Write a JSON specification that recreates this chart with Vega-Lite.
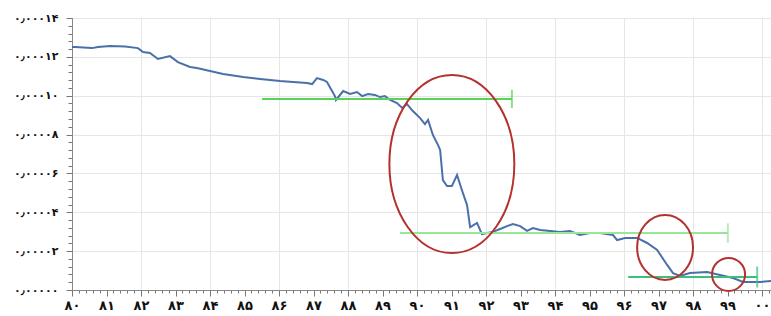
{
  "$schema": "https://vega.github.io/schema/vega-lite/v6.json",
  "width": 699,
  "height": 272,
  "autosize": "none",
  "padding": {"left": 72, "top": 18, "right": 0, "bottom": 26},
  "background": "white",
  "config": {"view": {"stroke": null}},
  "datasets": {
    "series": [
      {"year": 80.00, "value": 0.0001251},
      {"year": 80.09, "value": 0.0001251},
      {"year": 80.58, "value": 0.0001245},
      {"year": 80.75, "value": 0.0001251},
      {"year": 81.10, "value": 0.0001256},
      {"year": 81.54, "value": 0.0001253},
      {"year": 81.91, "value": 0.0001245},
      {"year": 82.06, "value": 0.0001225},
      {"year": 82.26, "value": 0.0001220},
      {"year": 82.49, "value": 0.0001189},
      {"year": 82.84, "value": 0.0001204},
      {"year": 83.07, "value": 0.0001173},
      {"year": 83.42, "value": 0.0001148},
      {"year": 83.62, "value": 0.0001143},
      {"year": 84.00, "value": 0.0001127},
      {"year": 84.38, "value": 0.0001112},
      {"year": 84.96, "value": 0.0001096},
      {"year": 85.45, "value": 0.0001086},
      {"year": 86.03, "value": 0.0001076},
      {"year": 86.41, "value": 0.0001071},
      {"year": 86.81, "value": 0.0001065},
      {"year": 86.96, "value": 0.0001060},
      {"year": 87.10, "value": 0.0001091},
      {"year": 87.28, "value": 0.0001081},
      {"year": 87.39, "value": 0.0001071},
      {"year": 87.62, "value": 0.0000998},
      {"year": 87.65, "value": 0.0000978},
      {"year": 87.86, "value": 0.0001024},
      {"year": 88.06, "value": 0.0001009},
      {"year": 88.26, "value": 0.0001019},
      {"year": 88.41, "value": 0.0000998},
      {"year": 88.58, "value": 0.0001009},
      {"year": 88.78, "value": 0.0001004},
      {"year": 88.93, "value": 0.0000993},
      {"year": 89.07, "value": 0.0000998},
      {"year": 89.22, "value": 0.0000978},
      {"year": 89.42, "value": 0.0000962},
      {"year": 89.57, "value": 0.0000937},
      {"year": 89.71, "value": 0.0000957},
      {"year": 89.88, "value": 0.0000921},
      {"year": 90.09, "value": 0.0000885},
      {"year": 90.23, "value": 0.0000854},
      {"year": 90.32, "value": 0.0000875},
      {"year": 90.46, "value": 0.0000798},
      {"year": 90.61, "value": 0.0000746},
      {"year": 90.67, "value": 0.0000721},
      {"year": 90.75, "value": 0.0000566},
      {"year": 90.87, "value": 0.0000535},
      {"year": 91.01, "value": 0.0000535},
      {"year": 91.16, "value": 0.0000592},
      {"year": 91.30, "value": 0.0000515},
      {"year": 91.45, "value": 0.0000437},
      {"year": 91.54, "value": 0.0000324},
      {"year": 91.59, "value": 0.0000329},
      {"year": 91.74, "value": 0.0000345},
      {"year": 91.88, "value": 0.0000288},
      {"year": 92.03, "value": 0.0000293},
      {"year": 92.20, "value": 0.0000299},
      {"year": 92.41, "value": 0.0000314},
      {"year": 92.61, "value": 0.0000329},
      {"year": 92.78, "value": 0.0000340},
      {"year": 92.99, "value": 0.0000329},
      {"year": 93.19, "value": 0.0000304},
      {"year": 93.36, "value": 0.0000319},
      {"year": 93.57, "value": 0.0000309},
      {"year": 93.86, "value": 0.0000304},
      {"year": 94.14, "value": 0.0000299},
      {"year": 94.43, "value": 0.0000304},
      {"year": 94.72, "value": 0.0000283},
      {"year": 95.01, "value": 0.0000293},
      {"year": 95.30, "value": 0.0000293},
      {"year": 95.68, "value": 0.0000283},
      {"year": 95.80, "value": 0.0000257},
      {"year": 96.03, "value": 0.0000268},
      {"year": 96.38, "value": 0.0000268},
      {"year": 96.67, "value": 0.0000242},
      {"year": 96.96, "value": 0.0000206},
      {"year": 97.25, "value": 0.0000129},
      {"year": 97.42, "value": 0.0000087},
      {"year": 97.62, "value": 0.0000072},
      {"year": 97.91, "value": 0.0000087},
      {"year": 98.41, "value": 0.0000093},
      {"year": 98.78, "value": 0.0000077},
      {"year": 99.16, "value": 0.0000062},
      {"year": 99.45, "value": 0.0000041},
      {"year": 99.94, "value": 0.0000041},
      {"year": 100.26, "value": 0.0000046}
    ],
    "levels": [
      {"name": "a", "start": 85.51, "end": 92.75, "value": 0.0000983},
      {"name": "b", "start": 89.51, "end": 99.01, "value": 0.0000293},
      {"name": "c", "start": 96.12, "end": 99.86, "value": 0.0000067}
    ]
  },
  "resolve": {"axis": {"x": "independent", "y": "independent"}},
  "layer": [
    {
      "data": {"name": "series"},
      "mark": {"type": "line", "opacity": 0},
      "encoding": {
        "x": {"field": "year", "type": "quantitative",
          "axis": {"orient": "bottom", "values": [80, 82, 84, 86, 88, 90, 92, 94, 96, 98, 100], "grid": true, "gridColor": "#e6e6e6", "gridWidth": 1, "ticks": false, "labels": false, "domain": false, "title": null}},
        "y": {"field": "value", "type": "quantitative", "axis": null}
      }
    },
    {
      "data": {"name": "series"},
      "mark": {"type": "line", "opacity": 0},
      "encoding": {
        "x": {"field": "year", "type": "quantitative",
          "axis": {"orient": "bottom", "values": [80,80.2,80.4,80.6,80.8,81,81.2,81.4,81.6,81.8,82,82.2,82.4,82.6,82.8,83,83.2,83.4,83.6,83.8,84,84.2,84.4,84.6,84.8,85,85.2,85.4,85.6,85.8,86,86.2,86.4,86.6,86.8,87,87.2,87.4,87.6,87.8,88,88.2,88.4,88.6,88.8,89,89.2,89.4,89.6,89.8,90,90.2,90.4,90.6,90.8,91,91.2,91.4,91.6,91.8,92,92.2,92.4,92.6,92.8,93,93.2,93.4,93.6,93.8,94,94.2,94.4,94.6,94.8,95,95.2,95.4,95.6,95.8,96,96.2,96.4,96.6,96.8,97,97.2,97.4,97.6,97.8,98,98.2,98.4,98.6,98.8,99,99.2,99.4,99.6,99.8,100,100.2], "grid": false, "ticks": true, "tickSize": 3, "tickColor": "#777", "labels": false, "domain": false, "title": null}},
        "y": {"field": "value", "type": "quantitative",
          "axis": {"orient": "left", "values": [0,0.000004,0.000008,0.000012,0.000016,0.00002,0.000024,0.000028,0.000032,0.000036,0.00004,0.000044,0.000048,0.000052,0.000056,0.00006,0.000064,0.000068,0.000072,0.000076,0.00008,0.000084,0.000088,0.000092,0.000096,0.0001,0.000104,0.000108,0.000112,0.000116,0.00012,0.000124,0.000128,0.000132,0.000136,0.00014], "grid": false, "ticks": true, "tickSize": 4, "tickColor": "#777", "labels": false, "domain": false, "title": null}}
      }
    },
    {
      "data": {"name": "series"},
      "mark": {"type": "line", "color": "#4a70aa", "strokeWidth": 2, "interpolate": "linear"},
      "encoding": {
        "x": {"field": "year", "type": "quantitative",
          "scale": {"domain": [80, 100.26], "nice": false, "zero": false},
          "axis": {"orient": "bottom", "values": [80,81,82,83,84,85,86,87,88,89,90,91,92,93,94,95,96,97,98,99,100], "grid": false, "tickSize": 6, "tickColor": "#777", "domainColor": "#888", "labelFont": "DejaVu Sans", "labelFontSize": 13, "labelFontWeight": "bold", "labelColor": "#111", "labelPadding": 3, "labelFlush": false, "labelOverlap": false, "title": null,
            "labelExpr": "replace(replace(replace(replace(replace(replace(replace(replace(replace(replace(format(datum.value % 100, '02d'), regexp('0','g'), '۰'), regexp('1','g'), '۱'), regexp('2','g'), '۲'), regexp('3','g'), '۳'), regexp('4','g'), '۴'), regexp('5','g'), '۵'), regexp('6','g'), '۶'), regexp('7','g'), '۷'), regexp('8','g'), '۸'), regexp('9','g'), '۹')"}},
        "y": {"field": "value", "type": "quantitative",
          "scale": {"domain": [0, 0.00014], "nice": false, "zero": true},
          "axis": {"orient": "left", "values": [0, 0.00002, 0.00004, 0.00006, 0.00008, 0.0001, 0.00012, 0.00014], "grid": true, "gridColor": "#e6e6e6", "tickSize": 6, "tickColor": "#777", "domainColor": "#888", "labelFont": "DejaVu Sans", "labelFontSize": 11, "labelFontWeight": "bold", "labelColor": "#111", "labelPadding": 8, "labelFlush": false, "labelOverlap": false, "title": null,
            "labelExpr": "replace(replace(replace(replace(replace(replace(replace(replace(replace(replace(replace(format(datum.value, '.5f'), regexp('\\\\.','g'), '٫'), regexp('0','g'), '۰'), regexp('1','g'), '۱'), regexp('2','g'), '۲'), regexp('3','g'), '۳'), regexp('4','g'), '۴'), regexp('5','g'), '۵'), regexp('6','g'), '۶'), regexp('7','g'), '۷'), regexp('8','g'), '۸'), regexp('9','g'), '۹')"}}
      }
    },
    {
      "data": {"name": "levels"},
      "mark": {"type": "rule", "strokeWidth": 2},
      "encoding": {
        "x": {"field": "start", "type": "quantitative", "axis": null},
        "x2": {"field": "end"},
        "y": {"field": "value", "type": "quantitative", "axis": null},
        "color": {"field": "name", "type": "nominal", "legend": null,
          "scale": {"domain": ["a", "b", "c"], "range": ["#55d455", "#99e699", "#3dbf7a"]}}
      }
    },
    {
      "data": {"name": "levels"},
      "mark": {"type": "tick", "orient": "vertical", "thickness": 2},
      "encoding": {
        "x": {"field": "end", "type": "quantitative", "axis": null},
        "y": {"field": "value", "type": "quantitative", "axis": null},
        "color": {"field": "name", "type": "nominal", "legend": null,
          "scale": {"domain": ["a", "b", "c"], "range": ["#55d455", "#99e699", "#3dbf7a"]}},
        "size": {"field": "name", "type": "nominal", "legend": null,
          "scale": {"domain": ["a", "b", "c"], "range": [18, 21, 17]}}
      }
    },
    {
      "data": {"values": [{"year": 91.01, "value": 0.0000648}]},
      "mark": {"type": "point", "filled": false, "color": "#b5312f", "strokeWidth": 2, "opacity": 1,
        "shape": "M 0 -1 A 0.702 1 0 1 1 0 1 A 0.702 1 0 1 1 0 -1 Z", "size": 31684},
      "encoding": {
        "x": {"field": "year", "type": "quantitative", "axis": null},
        "y": {"field": "value", "type": "quantitative", "axis": null}
      }
    },
    {
      "data": {"values": [{"year": 97.19, "value": 0.0000219}]},
      "mark": {"type": "point", "filled": false, "color": "#b5312f", "strokeWidth": 2, "opacity": 1,
        "shape": "M 0 -1 A 0.86 1 0 1 1 0 1 A 0.86 1 0 1 1 0 -1 Z", "size": 4225},
      "encoding": {
        "x": {"field": "year", "type": "quantitative", "axis": null},
        "y": {"field": "value", "type": "quantitative", "axis": null}
      }
    },
    {
      "data": {"values": [{"year": 99.03, "value": 0.0000080}]},
      "mark": {"type": "point", "filled": false, "color": "#b5312f", "strokeWidth": 2, "opacity": 1,
        "shape": "circle", "size": 1089},
      "encoding": {
        "x": {"field": "year", "type": "quantitative", "axis": null},
        "y": {"field": "value", "type": "quantitative", "axis": null}
      }
    }
  ]
}
